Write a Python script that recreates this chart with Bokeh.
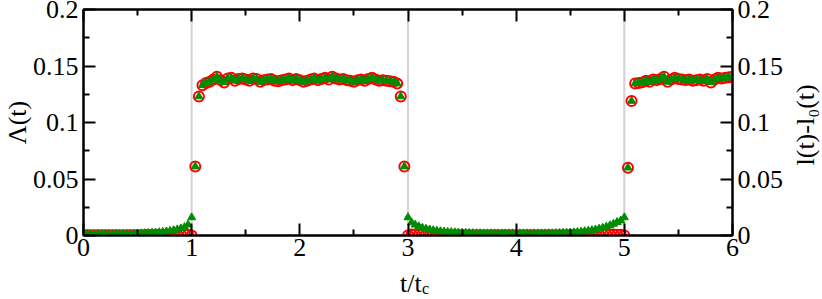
import math
from bokeh.plotting import figure
from bokeh.models import LinearAxis, FixedTicker, Span, Label, ColumnDataSource, Range1d
from bokeh.embed import file_html
from bokeh.resources import INLINE

# ---------------- data ----------------
SAMPLES_PER_TC = 30
t = [k / SAMPLES_PER_TC for k in range(181)]

switch_times = [1, 3, 5]

x_ticks = [0, 1, 2, 3, 4, 5, 6]
x_tick_labels = ["0", "1", "2", "3", "4", "5", "6"]
x_minor = [0.5, 1.5, 2.5, 3.5, 4.5, 5.5]
y_ticks = [0, 0.05, 0.1, 0.15, 0.2]
y_tick_labels = ["0", "0.05", "0.1", "0.15", "0.2"]
y_minor = [0.025, 0.075, 0.125, 0.175]

green_low1 = [0.0012, 0.0012, 0.0012, 0.0012, 0.0012, 0.0012, 0.0012, 0.0012, 0.0013, 0.0013,
              0.0013, 0.0014, 0.0014, 0.0015, 0.0016, 0.0017, 0.0018, 0.0019, 0.0021, 0.0023,
              0.0025, 0.0028, 0.0031, 0.0035, 0.0040, 0.0046, 0.0053, 0.0062, 0.0073, 0.0095,
              0.0160]
red_low1 = [0.0003, 0.0003, 0.0003, 0.0003, 0.0003, 0.0003, 0.0003, 0.0003, 0.0003, 0.0003,
            0.0003, 0.0003, 0.0003, 0.0003, 0.0003, 0.0003, 0.0003, 0.0004, 0.0004, 0.0004,
            0.0005, 0.0005, 0.0006, 0.0006, 0.0007, 0.0007, 0.0008, 0.0008, 0.0008, 0.0006,
            0.0000]
high1 = [0.061, 0.123,
         0.133, 0.135, 0.136, 0.138, 0.1405, 0.1375, 0.1355, 0.1390, 0.1395, 0.1370,
         0.1385, 0.1390, 0.1380, 0.1370, 0.1390, 0.1385, 0.1360, 0.1375, 0.1380, 0.1385,
         0.1370, 0.1365, 0.1375, 0.1380, 0.1390, 0.1375, 0.1385, 0.1375, 0.1360, 0.1370,
         0.1380, 0.1390, 0.1375, 0.1385, 0.1395, 0.1380, 0.1405, 0.1390, 0.1380, 0.1385,
         0.1375, 0.1370, 0.1360, 0.1375, 0.1380, 0.1370, 0.1385, 0.1395, 0.1380, 0.1370,
         0.1375, 0.1370, 0.1365, 0.1360, 0.1345,
         0.123, 0.061]
green_low2 = [0.0160, 0.0115, 0.0095, 0.0080, 0.0068, 0.0059, 0.0052, 0.0046, 0.0041, 0.0037,
              0.0034, 0.0031, 0.0029, 0.0027, 0.0025, 0.0023, 0.0022, 0.0021, 0.0020, 0.0019,
              0.0019, 0.0018, 0.0018, 0.0018, 0.0018, 0.0018, 0.0018, 0.0018, 0.0018, 0.0018,
              0.0018, 0.0018, 0.0018, 0.0018, 0.0018, 0.0018, 0.0018, 0.0018, 0.0018, 0.0019,
              0.0019, 0.0020, 0.0021, 0.0022, 0.0023, 0.0025, 0.0027, 0.0030, 0.0033, 0.0037,
              0.0041, 0.0046, 0.0052, 0.0059, 0.0067, 0.0077, 0.0089, 0.0103, 0.0118, 0.0132,
              0.0160]
red_low2 = [0.0000, 0.0008, 0.0008, 0.0007, 0.0006, 0.0005, 0.0005, 0.0004, 0.0004, 0.0003,
            0.0003, 0.0003, 0.0003, 0.0003, 0.0003, 0.0003, 0.0003, 0.0003, 0.0003, 0.0003,
            0.0003, 0.0003, 0.0003, 0.0003, 0.0003, 0.0003, 0.0003, 0.0003, 0.0003, 0.0003,
            0.0003, 0.0003, 0.0003, 0.0003, 0.0003, 0.0003, 0.0003, 0.0003, 0.0003, 0.0003,
            0.0003, 0.0003, 0.0003, 0.0003, 0.0003, 0.0004, 0.0004, 0.0004, 0.0005, 0.0005,
            0.0006, 0.0006, 0.0007, 0.0007, 0.0008, 0.0008, 0.0008, 0.0008, 0.0007, 0.0006,
            0.0000]
high2 = [0.060, 0.119,
         0.1345, 0.1350, 0.1355, 0.1370, 0.1360, 0.1380, 0.1375, 0.1385, 0.1405, 0.1360,
         0.1380, 0.1395, 0.1385, 0.1380, 0.1375, 0.1380, 0.1370, 0.1375, 0.1380, 0.1370,
         0.1385, 0.1355, 0.1380, 0.1395, 0.1390, 0.1395, 0.1400, 0.1405]

lam = red_low1 + high1 + red_low2 + high2
dl = green_low1 + high1 + green_low2 + high2

# ---------------- figure ----------------
W, H = 822, 299
FL, FR, FT, FB = 83, 733, 9, 235   # frame edges in canvas px

p = figure(width=W, height=H, x_range=Range1d(0, 6), y_range=Range1d(0, 0.2),
           output_backend="svg", toolbar_location=None,
           min_border_left=FL, min_border_right=W - FR,
           min_border_top=FT, min_border_bottom=H - FB)
p.grid.visible = False
p.outline_line_color = "black"
p.outline_line_width = 2
p.background_fill_color = "white"
p.border_fill_color = "white"

FONT = "'Liberation Serif', 'Times New Roman', serif"


def style(ax, show_labels=True, standoff=5):
    ax.axis_line_color = "black"
    ax.axis_line_width = 2
    ax.major_tick_line_color = "black"
    ax.major_tick_line_width = 2
    ax.minor_tick_line_color = "black"
    ax.minor_tick_line_width = 2
    ax.major_tick_in = 12
    ax.major_tick_out = 0
    ax.minor_tick_in = 6
    ax.minor_tick_out = 0
    ax.major_label_text_font = FONT
    ax.major_label_text_color = "black"
    ax.major_label_standoff = standoff
    if show_labels:
        ax.major_label_text_font_size = "26px"
    else:
        ax.major_label_text_font_size = "1px"
        ax.major_label_text_alpha = 0
        ax.major_label_standoff = 0


x_over = dict(zip(x_ticks, x_tick_labels))
y_over = dict(zip(y_ticks, y_tick_labels))

bx = p.xaxis[0]
bx.ticker = FixedTicker(ticks=x_ticks, minor_ticks=x_minor)
bx.major_label_overrides = x_over
style(bx, True, 3)

ly = p.yaxis[0]
ly.ticker = FixedTicker(ticks=y_ticks, minor_ticks=y_minor)
ly.major_label_overrides = y_over
style(ly, True, 5)

ry = LinearAxis(ticker=FixedTicker(ticks=y_ticks, minor_ticks=y_minor))
ry.major_label_overrides = y_over
style(ry, True, 5)
p.add_layout(ry, "right")

tx = LinearAxis(ticker=FixedTicker(ticks=x_ticks, minor_ticks=x_minor))
style(tx, False)
p.add_layout(tx, "above")

for ts in switch_times:
    p.add_layout(Span(location=ts, dimension="height", line_color="#d3d3d3",
                      line_width=2, level="underlay"))

src = ColumnDataSource(dict(t=t, lam=lam, dl=dl))
p.scatter("t", "lam", source=src, marker="circle", size=10, line_color="#ff0000",
          fill_color=None, line_width=2)
p.scatter("t", "dl", source=src, marker="triangle", size=8, line_color="#008c00",
          fill_color="#008c00", line_width=1)


# axis titles: canvas px -> data coords (labels live in side panels so they are not clipped)
def X(px):
    return (px - FL) / (FR - FL) * 6


def Y(py):
    return (FB - py) / (FB - FT) * 0.2


def lab(text, px, py, size, side, angle=0, align="left", baseline="alphabetic"):
    p.add_layout(Label(x=X(px), y=Y(py), text=text, text_font=FONT,
                       text_font_size=size, text_color="black", angle=angle,
                       text_align=align, text_baseline=baseline), side)


lab("\u039b(t)", 17, 122, "26px", "left", angle=math.pi / 2, align="center", baseline="middle")
lab("t/t", 400, 283, "26px", "below")
lab("l(t)-l\u2080(t)", 806, 165, "26px", "right", angle=math.pi / 2)
lab("c", 422, 288, "16px", "right")

open("out.html", "w").write(file_html(p, INLINE))
